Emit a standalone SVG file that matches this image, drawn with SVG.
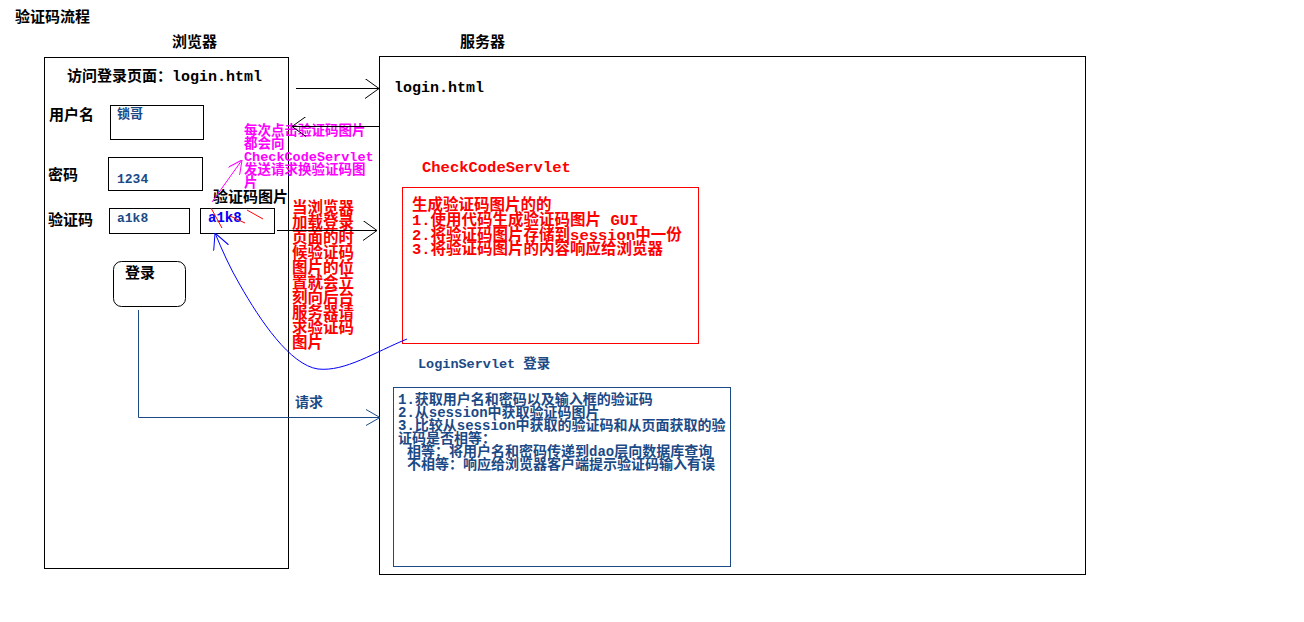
<svg xmlns="http://www.w3.org/2000/svg" width="1304" height="622" viewBox="0 0 1304 622">
<style>
text{font-family:"Liberation Mono","Noto Sans CJK SC",monospace;font-weight:bold;}
.k{fill:#000;font-size:15px;}
.r{fill:#FF0000;font-size:15.5px;}
.m{fill:#FF00FF;font-size:13.5px;}
.db{fill:#1B4A86;}
.box{fill:none;stroke:#000;stroke-width:1;}
.ln{fill:none;stroke-width:1;}
</style>
<defs>
<marker id="ak" viewBox="0 0 14 20" refX="14" refY="10" markerWidth="14" markerHeight="20" markerUnits="userSpaceOnUse" orient="auto"><path d="M0,0 L14,10 L0,20" fill="none" stroke="#000" stroke-width="1"/></marker>
<marker id="adb" viewBox="0 0 14 20" refX="14" refY="10" markerWidth="14" markerHeight="20" markerUnits="userSpaceOnUse" orient="auto"><path d="M0,2 L14,10 L0,18" fill="none" stroke="#1B4A86" stroke-width="1"/></marker>
<marker id="ab" viewBox="0 0 16 20" refX="16" refY="10" markerWidth="16" markerHeight="20" markerUnits="userSpaceOnUse" orient="auto"><path d="M0,2 L16,10 L0,18" fill="none" stroke="#0000FF" stroke-width="1"/></marker>
<marker id="am" viewBox="0 0 14 14" refX="14" refY="7" markerWidth="14" markerHeight="14" markerUnits="userSpaceOnUse" orient="auto"><path d="M0,0 L14,7 L0,14" fill="none" stroke="#FF00FF" stroke-width="1"/></marker>
</defs>
<rect width="1304" height="622" fill="#fff"/>

<g id="title">
<text class="k" x="15" y="22">验证码流程</text>
<text class="k" x="172" y="47">浏览器</text>
<text class="k" x="460" y="47">服务器</text>
</g>

<g id="browser">
<rect class="box" x="44.5" y="57.5" width="244" height="511"/>
<text class="k" x="67" y="81">访问登录页面：login.html</text>
<text class="k" x="49" y="120">用户名</text>
<rect class="box" x="110.5" y="105.5" width="93" height="34"/>
<text class="db" x="117" y="118" font-size="13">锁哥</text>
<text class="k" x="48" y="180">密码</text>
<rect class="box" x="108.5" y="157.5" width="94" height="33"/>
<text class="db" x="117" y="183" font-size="13">1234</text>
<text class="k" x="48" y="225">验证码</text>
<rect class="box" x="109.5" y="208.5" width="80" height="25"/>
<text class="db" x="117" y="222" font-size="13">a1k8</text>
</g>

<g id="captcha-image">
<text class="k" x="213" y="202">验证码图片</text>
<rect class="box" x="200.5" y="208.5" width="74" height="25"/>
<text x="208" y="222" font-size="14" fill="#0000FF">a1k8</text>
<g stroke="#FF0000" stroke-width="1">
<line x1="211" y1="208" x2="222" y2="228"/>
<line x1="230" y1="216" x2="245" y2="223"/>
<line x1="247" y1="210" x2="263" y2="219"/>
</g>
</g>

<g id="login-button">
<rect class="box" x="113.5" y="261.5" width="72" height="45" rx="8"/>
<text class="k" x="125" y="278">登录</text>
</g>

<g id="server">
<rect class="box" x="379.5" y="56.5" width="706" height="518"/>
<text class="k" x="394" y="92">login.html</text>
</g>

<g id="checkcode-servlet">
<text class="r" x="422" y="172" font-size="15">CheckCodeServlet</text>
<rect x="402.5" y="187.5" width="296" height="156" fill="none" stroke="#FF0000"/>
<text class="r" x="412" y="210">生成验证码图片的的</text>
<text class="r" x="412" y="225">1.使用代码生成验证码图片 GUI</text>
<text class="r" x="412" y="240">2.将验证码图片存储到session中一份</text>
<text class="r" x="412" y="254">3.将验证码图片的内容响应给浏览器</text>
</g>

<g id="login-servlet">
<text class="db" x="418" y="368" font-size="13.5">LoginServlet 登录</text>
<rect x="393.5" y="387.5" width="337" height="179" fill="none" stroke="#1B4A86"/>
<g class="db" font-size="14">
<text x="398" y="404">1.获取用户名和密码以及输入框的验证码</text>
<text x="398" y="417">2.从session中获取验证码图片</text>
<text x="398" y="430">3.比较从session中获取的验证码和从页面获取的验</text>
<text x="398" y="443">证码是否相等：</text>
<text x="407" y="456">相等：将用户名和密码传递到dao层向数据库查询</text>
<text x="407" y="469">不相等：响应给浏览器客户端提示验证码输入有误</text>
</g>
</g>

<g id="note-click">
<text class="m" x="244" y="135">每次点击验证码图片</text>
<text class="m" x="244" y="148">都会向</text>
<text class="m" x="244" y="161">CheckCodeServlet</text>
<text class="m" x="244" y="174">发送请求换验证码图</text>
<text class="m" x="244" y="187">片</text>
</g>

<g id="note-load">
<text class="r" x="292" y="213">当浏览器</text>
<text class="r" x="292" y="228">加载登录</text>
<text class="r" x="292" y="243">页面的时</text>
<text class="r" x="292" y="258">候验证码</text>
<text class="r" x="292" y="273">图片的位</text>
<text class="r" x="292" y="288">置就会立</text>
<text class="r" x="292" y="303">刻向后台</text>
<text class="r" x="292" y="318">服务器请</text>
<text class="r" x="292" y="333">求验证码</text>
<text class="r" x="292" y="348">图片</text>
</g>

<g id="connectors">
<line class="ln" stroke="#000" x1="296" y1="88.5" x2="379" y2="88.5" marker-end="url(#ak)"/>
<line class="ln" stroke="#000" x1="380" y1="126.5" x2="292" y2="126.5" marker-end="url(#ak)"/>
<line class="ln" stroke="#000" x1="277" y1="230.5" x2="377" y2="230.5" marker-end="url(#ak)"/>
<line class="ln" stroke="#FF00FF" x1="212" y1="202" x2="242" y2="160" marker-end="url(#am)"/>
<path class="ln" stroke="#0000FF" d="M407,339 C375,352 345,372 318,369 C290,365 260,320 240,285 C230,268 222,250 215,233" marker-end="url(#ab)"/>
<polyline class="ln" stroke="#1B4A86" points="138.5,310 138.5,417.5 380,417.5" marker-end="url(#adb)"/>
<text class="db" x="295" y="407" font-size="14">请求</text>
</g>
</svg>
